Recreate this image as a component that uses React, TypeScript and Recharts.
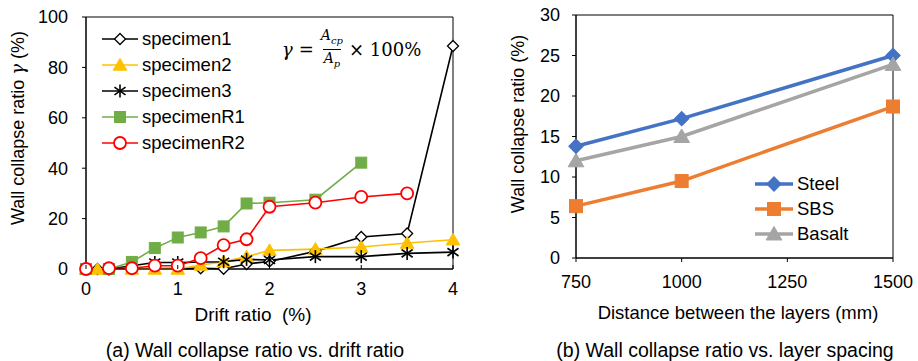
import React from 'react';
import {
  LineChart,
  Line,
  XAxis,
  YAxis,
  Legend,
  ReferenceArea,
} from 'recharts';

// (a) drift ratio vs wall collapse ratio
const driftRatio = [0, 0.125, 0.25, 0.5, 0.75, 1, 1.25, 1.5, 1.75, 2, 2.5, 3, 3.5, 4];
const specimen1 = [0, 0, null, null, null, null, 0.3, 0.1, 2, 3, 7, 12.7, 14.1, 88.5];
const specimen2 = [0, 0, null, 0, 0, 0, 1.6, 2.9, 4.9, 7.4, 7.9, 8.7, 10.3, 11.6];
const specimen3 = [0, null, 0, null, 2.6, 2.6, null, 2.9, 3.8, 3.6, 4.9, 4.9, 6.2, 6.7];
const specimenR1 = [0, null, 0, 2.8, 8.3, 12.5, 14.5, 16.9, 26, 26.3, 27.5, 42.2, null, null];
const specimenR2 = [0, null, 0.3, 0.3, 1.3, 1.3, 4.3, 9.5, 11.8, 24.7, 26.3, 28.6, 30, null];
const driftTicks = [0, 1, 2, 3, 4];
const collapseTicks = [0, 20, 40, 60, 80, 100];

// (b) layer spacing vs wall collapse ratio
const layerSpacing = [750, 1000, 1500];
const steel = [13.8, 17.2, 25.0];
const sbs = [6.4, 9.5, 18.7];
const basalt = [12.0, 15.0, 23.9];
const spacingTicks = [750, 1000, 1250, 1500];
const ratioTicks = [0, 5, 10, 15, 20, 25, 30];

const driftData = driftRatio.map((x, i) => ({
  x,
  specimen1: specimen1[i],
  specimen2: specimen2[i],
  specimen3: specimen3[i],
  specimenR1: specimenR1[i],
  specimenR2: specimenR2[i],
}));

const spacingData = layerSpacing.map((x, i) => ({
  x,
  Steel: steel[i],
  SBS: sbs[i],
  Basalt: basalt[i],
}));

const FONT = "'Liberation Sans', Arial, sans-serif";

type Shape = 'diamond' | 'triangle' | 'star' | 'square' | 'circle';

const Marker = ({ shape, cx, cy, size, color, fill }: any) => {
  const s = size;
  if (shape === 'diamond') {
    return (
      <polygon
        points={`${cx},${cy - s} ${cx + s},${cy} ${cx},${cy + s} ${cx - s},${cy}`}
        fill={fill}
        stroke={color}
        strokeWidth={1.3}
      />
    );
  }
  if (shape === 'triangle') {
    return (
      <polygon
        points={`${cx},${cy - s} ${cx + s * 1.05},${cy + s * 0.8} ${cx - s * 1.05},${cy + s * 0.8}`}
        fill={fill}
        stroke={color}
        strokeWidth={1}
      />
    );
  }
  if (shape === 'square') {
    return <rect x={cx - s} y={cy - s} width={s * 2} height={s * 2} fill={fill} stroke={color} strokeWidth={1} />;
  }
  if (shape === 'circle') {
    return <circle cx={cx} cy={cy} r={s} fill={fill} stroke={color} strokeWidth={1.8} />;
  }
  // asterisk: vertical line plus an X
  const d = s * 0.85;
  return (
    <g stroke={color} strokeWidth={1.6}>
      <line x1={cx} y1={cy - s} x2={cx} y2={cy + s} />
      <line x1={cx - d} y1={cy - d * 0.7} x2={cx + d} y2={cy + d * 0.7} />
      <line x1={cx - d} y1={cy + d * 0.7} x2={cx + d} y2={cy - d * 0.7} />
    </g>
  );
};

const dotRenderer = (name: string, shape: Shape, size: number, color: string, fill: string) => (props: any) => {
  const { cx, cy, index, value } = props;
  if (cx == null || cy == null || value == null) return <g key={`${name}-${index}`} />;
  return (
    <g key={`${name}-${index}`}>
      <Marker shape={shape} cx={cx} cy={cy} size={size} color={color} fill={fill} />
    </g>
  );
};

const leftSeries = [
  { key: 'specimen1', color: '#000000', fill: '#ffffff', shape: 'diamond' as Shape, size: 5.5 },
  { key: 'specimen2', color: '#FFC000', fill: '#FFC000', shape: 'triangle' as Shape, size: 6.5 },
  { key: 'specimen3', color: '#000000', fill: '#000000', shape: 'star' as Shape, size: 6.5 },
  { key: 'specimenR1', color: '#70AD47', fill: '#70AD47', shape: 'square' as Shape, size: 5.5 },
  { key: 'specimenR2', color: '#FF0000', fill: '#ffffff', shape: 'circle' as Shape, size: 6 },
];

const rightSeries = [
  { key: 'Steel', color: '#4472C4', fill: '#4472C4', shape: 'diamond' as Shape, size: 7 },
  { key: 'SBS', color: '#ED7D31', fill: '#ED7D31', shape: 'square' as Shape, size: 6.5 },
  { key: 'Basalt', color: '#A5A5A5', fill: '#A5A5A5', shape: 'triangle' as Shape, size: 7.5 },
];

const SeriesLegend = ({ series, rowHeight, lineWidth, strokeWidth }: any) => (
  <div style={{ fontFamily: FONT, fontSize: 18.5, color: '#000' }}>
    {series.map((s: any) => (
      <div key={s.key} style={{ display: 'flex', alignItems: 'center', height: rowHeight }}>
        <svg width={lineWidth} height={20}>
          <line x1={0} y1={10} x2={lineWidth} y2={10} stroke={s.color} strokeWidth={strokeWidth} />
          <Marker shape={s.shape} cx={lineWidth / 2} cy={10} size={s.size} color={s.color} fill={s.fill} />
        </svg>
        <span style={{ marginLeft: 4 }}>{s.key}</span>
      </div>
    ))}
  </div>
);

// x ticks of chart (a) point inward
const InwardTick = (props: any) => {
  const { x, y, payload } = props;
  return (
    <g>
      <line x1={x} y1={y} x2={x} y2={y - 4} stroke="#000" />
      <text x={x} y={y + 26} textAnchor="middle" fontSize={18} fontFamily={FONT} fill="#000">
        {payload.value}
      </text>
    </g>
  );
};

const LeftYLabel = () => (
  <text
    transform="translate(24,128) rotate(-90)"
    textAnchor="middle"
    fontSize={18}
    fontFamily={FONT}
    fill="#000"
  >
    Wall collapse ratio <tspan fontFamily="'DejaVu Serif', serif" fontStyle="italic">γ</tspan> (%)
  </text>
);

const RightYLabel = () => (
  <text
    transform="translate(24,124) rotate(-90)"
    textAnchor="middle"
    fontSize={18}
    fontFamily={FONT}
    fill="#000"
  >
    Wall collapse ratio (%)
  </text>
);

const Formula = () => (
  <div
    style={{
      position: 'absolute',
      left: 282,
      top: 28,
      display: 'flex',
      alignItems: 'center',
      fontFamily: "'DejaVu Serif', serif",
      fontSize: 18,
      color: '#000',
      whiteSpace: 'nowrap',
    }}
  >
    <span style={{ fontStyle: 'italic' }}>γ</span>
    <span style={{ margin: '0 6px' }}>=</span>
    <span style={{ display: 'inline-flex', flexDirection: 'column', alignItems: 'center', fontSize: 14, lineHeight: '14px' }}>
      <span style={{ fontStyle: 'italic', padding: '0 1px 1px' }}>
        A<sub style={{ fontSize: 10 }}>cp</sub>
      </span>
      <span style={{ borderTop: '1px solid #000', fontStyle: 'italic', padding: '1px 1px 0' }}>
        A<sub style={{ fontSize: 10 }}>p</sub>
      </span>
    </span>
    <span style={{ marginLeft: 5 }}>× 100%</span>
  </div>
);

const textStyle: React.CSSProperties = {
  position: 'absolute',
  fontFamily: FONT,
  color: '#000',
  whiteSpace: 'nowrap',
  transform: 'translateX(-50%)',
  lineHeight: '22px',
};

const App = () => {
  return (
    <div style={{ position: 'absolute', left: 0, top: 0, width: 918, height: 361, background: '#fff' }}>
      <div style={{ position: 'absolute', left: 0, top: 0 }}>
        <LineChart width={465} height={302} data={driftData} margin={{ top: 17, right: 12, bottom: 0, left: 0 }}>
          <ReferenceArea x1={0} x2={4} y1={0} y2={100} fill="none" stroke="#000" strokeWidth={1} ifOverflow="visible" />
          <XAxis
            dataKey="x"
            type="number"
            domain={[0, 4]}
            ticks={driftTicks}
            height={33}
            axisLine={{ stroke: '#000' }}
            tickLine={false}
            tickSize={0}
            tickMargin={0}
            tick={<InwardTick />}
          />
          <YAxis
            type="number"
            domain={[0, 100]}
            ticks={collapseTicks}
            width={86}
            axisLine={{ stroke: '#000' }}
            tickLine={{ stroke: '#000' }}
            tickSize={4}
            tickMargin={14}
            tick={{ fill: '#000', fontSize: 18, fontFamily: FONT }}
            label={<LeftYLabel />}
          />
          <Legend
            layout="vertical"
            align="center"
            verticalAlign="middle"
            wrapperStyle={{ left: 102, top: 26, width: 160 }}
            content={() => <SeriesLegend series={leftSeries} rowHeight={26} lineWidth={36} strokeWidth={1.5} />}
          />
          {leftSeries.map((s) => (
            <Line
              key={s.key}
              dataKey={s.key}
              type="linear"
              stroke={s.color}
              strokeWidth={1.6}
              connectNulls
              dot={dotRenderer(s.key, s.shape, s.size, s.color, s.fill)}
              activeDot={false}
              isAnimationActive={false}
            />
          ))}
        </LineChart>
        <Formula />
      </div>

      <div style={{ position: 'absolute', left: 500, top: 0 }}>
        <LineChart width={418} height={300} data={spacingData} margin={{ top: 15, right: 25, bottom: 0, left: 0 }}>
          <ReferenceArea x1={750} x2={1500} y1={0} y2={30} fill="none" stroke="#000" strokeWidth={1} ifOverflow="visible" />
          <XAxis
            dataKey="x"
            type="number"
            domain={[750, 1500]}
            ticks={spacingTicks}
            height={42}
            axisLine={{ stroke: '#000' }}
            tickLine={{ stroke: '#000' }}
            tickSize={4}
            tickMargin={13}
            tick={{ fill: '#000', fontSize: 18, fontFamily: FONT }}
          />
          <YAxis
            type="number"
            domain={[0, 30]}
            ticks={ratioTicks}
            width={76}
            axisLine={{ stroke: '#000' }}
            tickLine={{ stroke: '#000' }}
            tickSize={4}
            tickMargin={12}
            tick={{ fill: '#000', fontSize: 18, fontFamily: FONT }}
            label={<RightYLabel />}
          />
          <Legend
            layout="vertical"
            align="center"
            verticalAlign="middle"
            wrapperStyle={{ left: 255, top: 171, width: 120 }}
            content={() => <SeriesLegend series={rightSeries} rowHeight={25} lineWidth={38} strokeWidth={3.5} />}
          />
          {rightSeries.map((s) => (
            <Line
              key={s.key}
              dataKey={s.key}
              type="linear"
              stroke={s.color}
              strokeWidth={3.5}
              dot={dotRenderer(s.key, s.shape, s.size, s.color, s.fill)}
              activeDot={false}
              isAnimationActive={false}
            />
          ))}
        </LineChart>
      </div>

      <div style={{ ...textStyle, fontSize: 19, left: 253, top: 304 }}>Drift ratio&nbsp; (%)</div>
      <div style={{ ...textStyle, fontSize: 18.5, left: 738, top: 302 }}>Distance between the layers (mm)</div>
      <div style={{ ...textStyle, fontSize: 19.5, left: 255, top: 339 }}>(a) Wall collapse ratio vs. drift ratio</div>
      <div style={{ ...textStyle, fontSize: 19.5, left: 725, top: 339 }}>(b) Wall collapse ratio vs. layer spacing</div>
    </div>
  );
};

export default App;
